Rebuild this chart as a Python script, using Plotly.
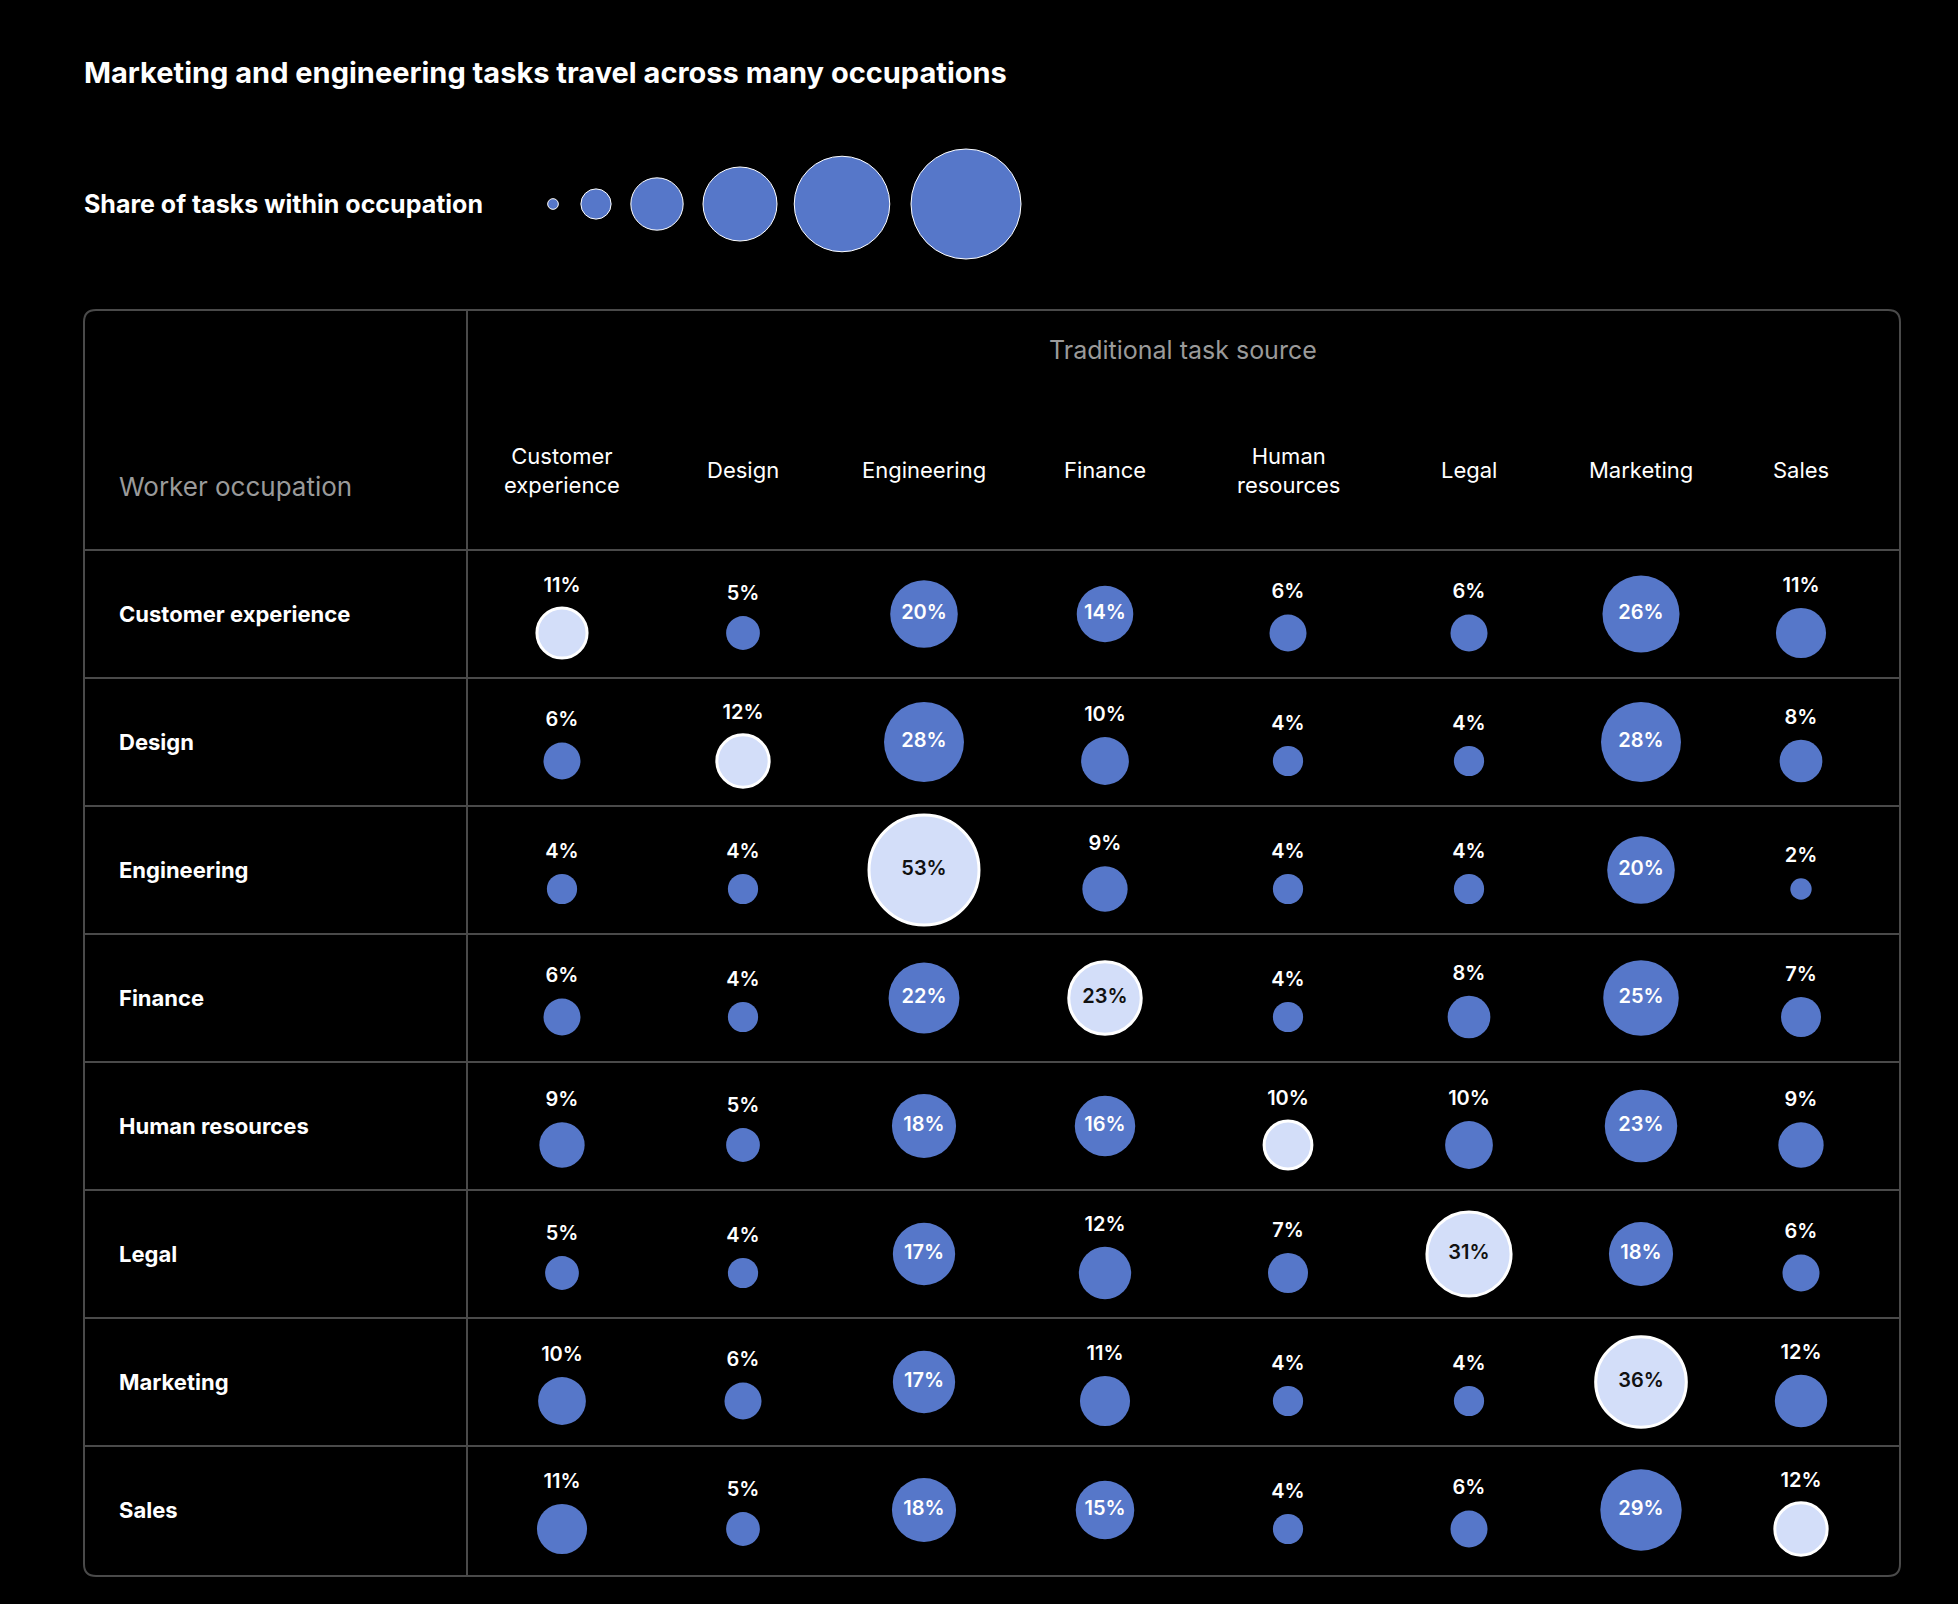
import plotly.graph_objects as go
import math

occupations = ["Customer experience", "Design", "Engineering", "Finance",
               "Human resources", "Legal", "Marketing", "Sales"]
col_labels = ["Customer<br>experience", "Design", "Engineering", "Finance",
              "Human<br>resources", "Legal", "Marketing", "Sales"]
values = [
    [11, 5, 20, 14, 6, 6, 26, 11],
    [6, 12, 28, 10, 4, 4, 28, 8],
    [4, 4, 53, 9, 4, 4, 20, 2],
    [6, 4, 22, 23, 4, 8, 25, 7],
    [9, 5, 18, 16, 10, 10, 23, 9],
    [5, 4, 17, 12, 7, 31, 18, 6],
    [10, 6, 17, 11, 4, 4, 36, 12],
    [11, 5, 18, 15, 4, 6, 29, 12],
]
legend_values = [0.5, 4, 12, 24, 40, 53]

W, H = 1958, 1604
BLUE = "#5677c9"
LIGHT = "#d3def9"
FONT = "Inter"
col_x = [562, 743, 924, 1105, 1288, 1469, 1641, 1801]
row_top0, row_h = 550, 128
RMAX = 55

def rad(v):
    return RMAX * math.sqrt(v / 53)

fig = go.Figure()
bx, by, bs, bc, bl = [], [], [], [], []
tx_in, ty_in, tt_in, tc_in = [], [], [], []
tx_up, ty_up, tt_up = [], [], []
for i, row in enumerate(values):
    rc = row_top0 + row_h * i + row_h / 2
    for j, v in enumerate(row):
        r = rad(v)
        diag = i == j
        inside = v >= 13
        cy = rc if inside else rc + 19
        bx.append(col_x[j]); by.append(cy); bs.append(2 * r)
        bc.append(LIGHT if diag else BLUE)
        bl.append(3 if diag else 0)
        if inside:
            tx_in.append(col_x[j]); ty_in.append(cy); tt_in.append(f"{v}%")
            tc_in.append("#111" if diag else "white")
        else:
            tx_up.append(col_x[j]); ty_up.append(cy - r - 21); tt_up.append(f"{v}%")

fig.add_trace(go.Scatter(x=bx, y=by, mode="markers",
    marker=dict(size=bs, color=bc, opacity=1, line=dict(color="white", width=bl)),
    hoverinfo="skip"))
fig.add_trace(go.Scatter(x=tx_in, y=ty_in, text=tt_in, mode="text",
    textfont=dict(family=FONT, size=20, color=tc_in, weight=600), hoverinfo="skip"))
fig.add_trace(go.Scatter(x=tx_up, y=ty_up, text=tt_up, mode="text",
    textfont=dict(family=FONT, size=20, color="white", weight=600), hoverinfo="skip"))

lxs = [553, 596, 657, 740, 842, 966]
fig.add_trace(go.Scatter(x=lxs, y=[204] * 6, mode="markers",
    marker=dict(size=[2 * max(rad(v), 3.5) for v in legend_values], color=BLUE, opacity=1),
    hoverinfo="skip"))

ann = []
ann.append(dict(x=82, y=72, text="<b>Marketing and engineering tasks travel across many occupations</b>",
                xanchor="left", font=dict(size=29, color="white")))
ann.append(dict(x=82, y=204, text="<b>Share of tasks within occupation</b>",
                xanchor="left", font=dict(size=25, color="white")))
ann.append(dict(x=1183, y=350, text="Traditional task source",
                font=dict(size=25, color="#9a9a9a")))
ann.append(dict(x=117, y=486, text="Worker occupation", xanchor="left",
                font=dict(size=26, color="#9a9a9a")))
for j, c in enumerate(col_labels):
    ann.append(dict(x=col_x[j], y=470, text=c, font=dict(size=22, color="white")))
for i, o in enumerate(occupations):
    ann.append(dict(x=117, y=row_top0 + row_h * i + row_h / 2, text=f"<b>{o}</b>",
                    xanchor="left", font=dict(size=22, color="white")))
for a in ann:
    a.update(xref="x", yref="y", showarrow=False, yanchor="middle")
    a.setdefault("xanchor", "center")
    a["font"]["family"] = FONT

LINE = "#4a4a4a"
L, R, T, B, rr = 84, 1900, 310, 1576, 12
shapes = [dict(type="path", xref="x", yref="y",
    path=f"M{L+rr},{T} L{R-rr},{T} Q{R},{T} {R},{T+rr} L{R},{B-rr} Q{R},{B} {R-rr},{B} "
         f"L{L+rr},{B} Q{L},{B} {L},{B-rr} L{L},{T+rr} Q{L},{T} {L+rr},{T} Z",
    line=dict(color=LINE, width=2), layer="below")]
shapes.append(dict(type="line", xref="x", yref="y", x0=467, x1=467, y0=T, y1=B,
                   line=dict(color=LINE, width=2), layer="below"))
for i in range(8):
    yy = row_top0 + row_h * i
    shapes.append(dict(type="line", xref="x", yref="y", x0=L, x1=R, y0=yy, y1=yy,
                       line=dict(color=LINE, width=2), layer="below"))

fig.update_layout(width=W, height=H, margin=dict(l=0, r=0, t=0, b=0),
    paper_bgcolor="black", plot_bgcolor="black", showlegend=False,
    xaxis=dict(range=[0, W], visible=False, fixedrange=True),
    yaxis=dict(range=[H, 0], visible=False, fixedrange=True),
    annotations=ann, shapes=shapes)
fig.write_html("out.html", config={"displayModeBar": False},
    post_script="document.body.style.margin='0';document.body.style.background='black';")
